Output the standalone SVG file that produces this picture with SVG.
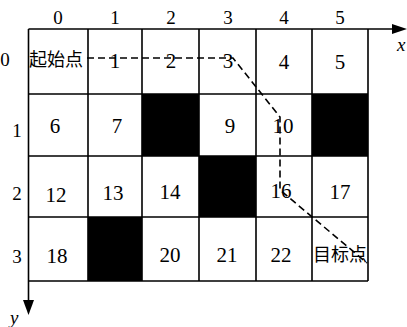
<svg xmlns="http://www.w3.org/2000/svg" width="407" height="327" viewBox="0 0 407 327">
<style>
.g{stroke:#000;stroke-width:1.6;fill:none}
.blk{fill:#000}
.num{font-family:"Liberation Serif",serif;font-size:21px;text-anchor:middle;fill:#000}
.hd{font-family:"Liberation Serif",serif;font-size:19px;text-anchor:middle;fill:#000}
.ax{font-family:"Liberation Serif",serif;font-size:19px;font-style:italic;fill:#000}
.cj{font-family:"Liberation Serif","Noto Sans CJK SC",serif;font-size:18px;fill:#000}
.path{stroke:#000;stroke-width:1.6;fill:none;stroke-dasharray:7 4}
</style>
<g id="blocked">
<rect class="blk" x="142" y="94" width="57" height="62"/>
<rect class="blk" x="312" y="94" width="56" height="62"/>
<rect class="blk" x="199" y="156" width="57" height="61"/>
<rect class="blk" x="88" y="217" width="54" height="64"/>
</g>
<g id="grid">
<path class="g" d="M28.5,94 H368 M28.5,156 H368 M28.5,217 H368 M28.5,281 H368 M88,29 V281 M142,29 V281 M199,29 V281 M256,29 V281 M312,29 V281 M368,29 V281"/>
</g>
<g id="axes">
<path class="g" d="M28.5,29 H392" />
<path d="M392,24 L407,29 L392,34 z" fill="#000"/>
<path class="g" d="M28.5,29 V300"/>
<path d="M23,300 L34,300 L28.5,315 z" fill="#000"/>
<text class="ax" x="397" y="51">x</text>
<text class="ax" x="10" y="324">y</text>
</g>
<g id="col-labels">
<text class="hd" x="58" y="24">0</text>
<text class="hd" x="115" y="24">1</text>
<text class="hd" x="171" y="24">2</text>
<text class="hd" x="228" y="24">3</text>
<text class="hd" x="284" y="24">4</text>
<text class="hd" x="340" y="24">5</text>
</g>
<g id="row-labels">
<text class="hd" x="5" y="66">0</text>
<text class="hd" x="17" y="137">1</text>
<text class="hd" x="17" y="200">2</text>
<text class="hd" x="17" y="263">3</text>
</g>
<g id="cells">
<text class="cj" x="29" y="66">起始点</text>
<text class="num" x="115" y="68">1</text>
<text class="num" x="171" y="68">2</text>
<text class="num" x="228" y="68">3</text>
<text class="num" x="284" y="69">4</text>
<text class="num" x="340" y="69">5</text>
<text class="num" x="55" y="133">6</text>
<text class="num" x="117" y="133">7</text>
<text class="num" x="230" y="133">9</text>
<text class="num" x="283" y="133">10</text>
<text class="num" x="56" y="202">12</text>
<text class="num" x="113" y="200">13</text>
<text class="num" x="170" y="199">14</text>
<text class="num" x="281" y="198">16</text>
<text class="num" x="340" y="199">17</text>
<text class="num" x="57" y="263">18</text>
<text class="num" x="170" y="262">20</text>
<text class="num" x="227" y="262">21</text>
<text class="num" x="281" y="262">22</text>
<text class="cj" x="313" y="261">目标点</text>
</g>
<g id="connectors">
<path class="path" d="M87,58 H233 L280,117 V190 L367,263"/>
</g>
</svg>
